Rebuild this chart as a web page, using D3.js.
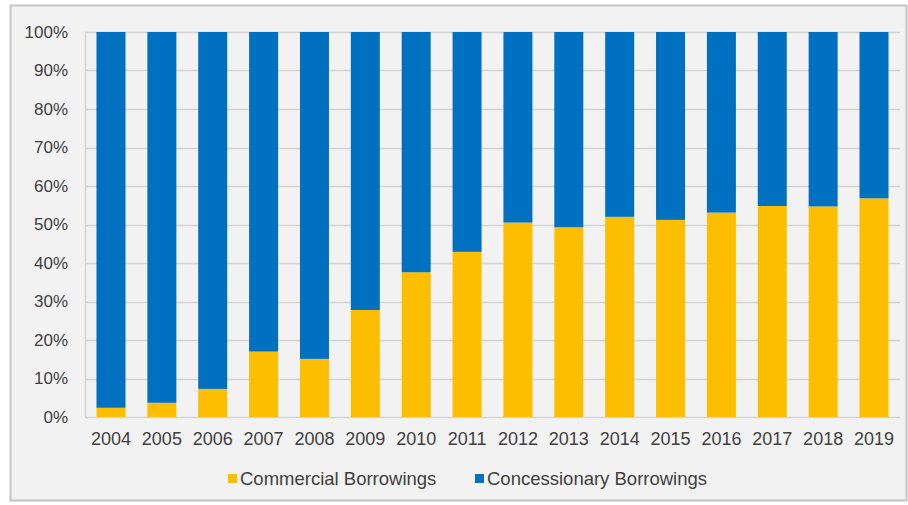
<!DOCTYPE html>
<html>
<head>
<meta charset="utf-8">
<script src="https://cdn.jsdelivr.net/npm/d3@7"></script>
<style>
    body { margin: 0; background: #ffffff; }
    text { font-family: "Liberation Sans", Arial, sans-serif; fill: #404040; }
</style>
</head>
<body>
<svg id="chart"></svg>
<script>
// Share of borrowings, % of total
const years = ["2004", "2005", "2006", "2007", "2008", "2009", "2010", "2011",
    "2012", "2013", "2014", "2015", "2016", "2017", "2018", "2019"];
const commercial = [2.4, 3.7, 7.3, 17.0, 15.1, 27.8, 37.6, 42.9,
    50.5, 49.3, 52.0, 51.2, 53.1, 54.8, 54.7, 56.8];
const concessionary = commercial.map(v => 100 - v);
const yTicks = [0, 10, 20, 30, 40, 50, 60, 70, 80, 90, 100];
const seriesNames = ["Commercial Borrowings", "Concessionary Borrowings"];
const seriesColors = ["#fdbe00", "#0070c0"];

const width = 908;
const height = 505;
const margin = { top: 32, right: 8, bottom: 88, left: 85 };

let svg = d3.select("#chart")
    .attr("width", width)
    .attr("height", height);

// Chart frame
svg.append("rect")
    .attr("x", 10.5)
    .attr("y", 5.5)
    .attr("width", 896)
    .attr("height", 495)
    .attr("fill", "#f2f2f2")
    .attr("stroke", "#c4c4c4")
    .attr("stroke-width", 2);

let x = d3.scaleBand()
    .domain(years)
    .range([margin.left, width - margin.right])
    .paddingInner(0.43)
    .paddingOuter(0.226);

let y = d3.scaleLinear()
    .domain([0, 100])
    .range([height - margin.bottom, margin.top]);

// Gridlines
svg.append("g")
    .selectAll("line")
    .data(yTicks)
    .join("line")
    .attr("x1", margin.left)
    .attr("x2", width - margin.right)
    .attr("y1", d => Math.round(y(d)) + 0.5)
    .attr("y2", d => Math.round(y(d)) + 0.5)
    .attr("stroke", "#d4d4d4")
    .attr("stroke-width", 1.5);

// Left axis line
svg.append("line")
    .attr("x1", margin.left + 0.5)
    .attr("x2", margin.left + 0.5)
    .attr("y1", y(100))
    .attr("y2", y(0))
    .attr("stroke", "#d4d4d4")
    .attr("stroke-width", 1.5);

// Stacked bars
let table = years.map((yr, i) => ({ year: yr, commercial: commercial[i], concessionary: concessionary[i] }));
let stacked = d3.stack().keys(["commercial", "concessionary"])(table);

svg.append("g")
    .selectAll("g")
    .data(stacked)
    .join("g")
    .attr("fill", (d, i) => seriesColors[i])
    .selectAll("rect")
    .data(d => d)
    .join("rect")
    .attr("x", d => x(d.data.year))
    .attr("y", d => y(d[1]))
    .attr("height", d => y(d[0]) - y(d[1]))
    .attr("width", x.bandwidth());

// Axes
let yAxis = g => g
    .attr("transform", `translate(${margin.left},0)`)
    .call(d3.axisLeft(y).tickValues(yTicks).tickFormat(d => d + "%").tickSize(0).tickPadding(17))
    .call(g => g.select(".domain").remove())
    .call(g => g.selectAll("text")
        .style("font-size", "17px")
        .attr("fill", "#404040"));

let xAxis = g => g
    .attr("transform", `translate(0,${height - margin.bottom})`)
    .call(d3.axisBottom(x).tickSize(0).tickPadding(15))
    .call(g => g.select(".domain").remove())
    .call(g => g.selectAll("text")
        .style("font-size", "18px")
        .attr("fill", "#404040"));

svg.append("g").call(yAxis);
svg.append("g").call(xAxis);

// Legend
let legendX = [228, 475];
let legend = svg.append("g")
    .selectAll("g")
    .data(seriesNames)
    .join("g")
    .attr("transform", (d, i) => `translate(${legendX[i]},474)`);

legend.append("rect")
    .attr("width", 9)
    .attr("height", 9)
    .attr("fill", (d, i) => seriesColors[i]);

legend.append("text")
    .attr("x", 12)
    .attr("y", 4.5)
    .attr("dy", "0.35em")
    .style("font-size", "18.5px")
    .text(d => d);
</script>
</body>
</html>
